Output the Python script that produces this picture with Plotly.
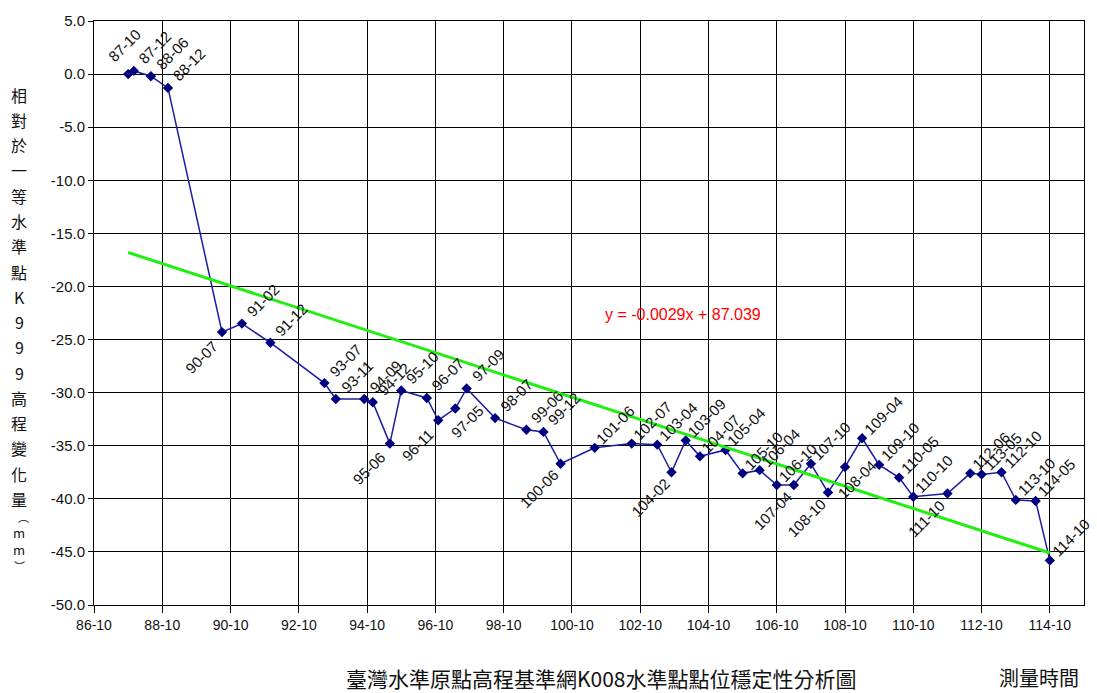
import plotly.graph_objects as go

# ---------------- data ----------------
# observation epochs (ROC year-month, as positioned on the time axis)
POINT_DATES = ["87-10", "87-12", "88-06", "88-12", "90-07", "91-02", "91-12", "93-07",
               "93-11", "94-09", "94-12", "95-06", "95-10", "96-07", "96-11", "97-05",
               "97-09", "98-07", "99-06", "99-12", "100-06", "101-06", "102-07", "103-04",
               "103-09", "104-02", "104-07", "105-04", "105-10", "106-04", "106-10", "107-04",
               "107-10", "108-04", "108-10", "109-04", "109-10", "110-05", "110-10", "111-10",
               "112-06", "112-10", "113-05", "113-10", "114-05", "114-10"]
# data labels as printed on the chart
POINT_LABELS = ["87-10", "87-12", "88-06", "88-12", "90-07", "91-02", "91-12", "93-07",
                "93-11", "94-09", "94-12", "95-06", "95-10", "96-07", "96-11", "97-05",
                "97-09", "98-07", "99-06", "99-12", "100-06", "101-06", "102-07", "103-04",
                "104-02", "103-09", "104-07", "105-04", "105-10", "106-04", "106-10", "107-04",
                "107-10", "108-10", "108-04", "109-04", "109-10", "110-05", "110-10", "111-10",
                "112-06", "113-05", "112-10", "113-10", "114-05", "114-10"]
# elevation change (mm)
VALUES = [0.0, 0.3, -0.2, -1.3, -24.3, -23.5, -25.3, -29.1,
          -30.6, -30.6, -30.9, -34.8, -29.8, -30.5, -32.6, -31.5,
          -29.6, -32.4, -33.5, -33.7, -36.7, -35.2, -34.8, -34.9,
          -37.5, -34.5, -36.0, -35.4, -37.6, -37.3, -38.7, -38.7,
          -36.7, -39.4, -37.0, -34.3, -36.8, -38.0, -39.8, -39.5,
          -37.6, -37.7, -37.5, -40.1, -40.2, -45.8]
# label placement: "ur" above-right, "ll" below-left, "up" above, "lr" below-right
LABEL_POS = ["up", "ur", "ur", "ur", "ll", "ur", "ur", "ur",
             "ur", "ur", "ur", "ll", "ur", "ur", "ll", "lr",
             "ur", "ur", "ur", "ur", "ll", "ur", "ur", "ur",
             "ll", "ur", "ur", "ur", "ur", "ur", "ur", "ll",
             "ur", "ll", "lr", "ur", "ur", "ur", "ur", "ll",
             "ur", "ur", "ur", "ur", "ur", "ur"]

# linear trendline and its equation
TREND_DATES = ["87-10", "114-10"]
TREND_VALUES = [-16.8, -45.1]
TREND_TEXT = "y = -0.0029x + 87.039"

X_TICKS = ["86-10", "88-10", "90-10", "92-10", "94-10", "96-10", "98-10", "100-10",
           "102-10", "104-10", "106-10", "108-10", "110-10", "112-10", "114-10"]
X_END = "115-10"
Y_TICKS = [5.0, 0.0, -5.0, -10.0, -15.0, -20.0, -25.0, -30.0, -35.0, -40.0, -45.0, -50.0]

Y_TITLE_CHARS = ["相", "對", "於", "一", "等", "水", "準", "點", "K", "9", "9", "9",
                 "高", "程", "變", "化", "量"]
Y_TITLE_TAIL = ["︵", "m", "m", "︶"]
BOTTOM_TITLE = "臺灣水準原點高程基準網K008水準點點位穩定性分析圖"
X_TITLE = "測量時間"


def to_num(s):
    y, m = s.split("-")
    return int(y) + (int(m) - 1) / 12.0


xs = [to_num(d) for d in POINT_DATES]
txs = [to_num(d) for d in TREND_DATES]

W, H = 1097, 693
ML, MR, MT, MB = 94, 13, 18, 88
PH = H - MT - MB

fig = go.Figure()
fig.add_trace(go.Scatter(
    x=xs, y=VALUES, mode="lines+markers",
    line=dict(color="#1c1ca0", width=1.5),
    marker=dict(symbol="diamond", size=8, color="#00007f"),
    showlegend=False, hoverinfo="skip"))
fig.add_trace(go.Scatter(
    x=txs, y=TREND_VALUES, mode="lines",
    line=dict(color="#22ee11", width=3),
    showlegend=False, hoverinfo="skip"))

lab_font = dict(family="Liberation Sans, Arial, sans-serif", size=15, color="#111111")
offsets = {"ur": (21, -23), "ll": (-21, 25), "up": (-4, -29), "lr": (12, 13)}
anns = []
for x, y, t, p in zip(xs, VALUES, POINT_LABELS, LABEL_POS):
    dx, dy = offsets[p]
    anns.append(dict(x=x, y=y, xref="x", yref="y", text=t, showarrow=False,
                     textangle=-45, xanchor="center", yanchor="middle",
                     xshift=dx, yshift=-dy, font=lab_font))


def py(yp):
    return 1 - (yp - MT) / PH


def px(xp):
    return (xp - ML) / (W - ML - MR)


# trend equation
anns.append(dict(x=px(683), y=py(313), xref="paper", yref="paper",
                 text=TREND_TEXT, showarrow=False, xanchor="center", yanchor="middle",
                 font=dict(family="Liberation Sans, Arial, sans-serif", size=16, color="#ff0000")))

# vertical y-axis title, one character per line
cjk = "Noto Sans CJK TC, Noto Sans CJK SC, sans-serif"
for i, ch in enumerate(Y_TITLE_CHARS):
    anns.append(dict(x=px(19), y=py(92 + 25.4 * i), xref="paper", yref="paper", text=ch,
                     showarrow=False, xanchor="center", yanchor="middle",
                     font=dict(family=cjk, size=16, color="#111111")))
tail_pos = [(23, 517), (19, 532), (19, 549), (19, 566)]
for ch, (xp, yp) in zip(Y_TITLE_TAIL, tail_pos):
    anns.append(dict(x=px(xp), y=py(yp), xref="paper", yref="paper", text=ch,
                     showarrow=False, xanchor="center", yanchor="middle",
                     font=dict(family=cjk, size=13 if ch == "m" else 11, color="#111111")))

anns.append(dict(x=px(601), y=py(678), xref="paper", yref="paper", text=BOTTOM_TITLE,
                 showarrow=False, xanchor="center", yanchor="middle",
                 font=dict(family=cjk, size=21, color="#111111")))
anns.append(dict(x=px(1039), y=py(678), xref="paper", yref="paper", text=X_TITLE,
                 showarrow=False, xanchor="center", yanchor="middle",
                 font=dict(family=cjk, size=20, color="#111111")))

tick_font = dict(family="Liberation Sans, Arial, sans-serif", size=15, color="#111111")
fig.update_layout(
    width=W, height=H,
    margin=dict(l=ML, r=MR, t=MT, b=MB),
    paper_bgcolor="white", plot_bgcolor="white",
    annotations=anns,
    xaxis=dict(range=[to_num(X_TICKS[0]), to_num(X_END)],
               tickvals=[to_num(t) for t in X_TICKS], ticktext=X_TICKS,
               showgrid=True, gridcolor="#000000", gridwidth=1,
               showline=True, linecolor="#000000", linewidth=1, mirror=True,
               ticks="outside", ticklen=7, tickcolor="#000000",
               tickfont=dict(family="Liberation Sans, Arial, sans-serif", size=14, color="#111111"),
               zeroline=False, fixedrange=True),
    yaxis=dict(range=[Y_TICKS[-1], Y_TICKS[0]],
               tickvals=Y_TICKS, ticktext=[f"{v:.1f}" for v in Y_TICKS],
               showgrid=True, gridcolor="#000000", gridwidth=1,
               showline=True, linecolor="#000000", linewidth=1, mirror=True,
               ticks="outside", ticklen=5, tickcolor="#000000",
               tickfont=tick_font, zeroline=False, fixedrange=True),
)

fig.write_html("out.html")
